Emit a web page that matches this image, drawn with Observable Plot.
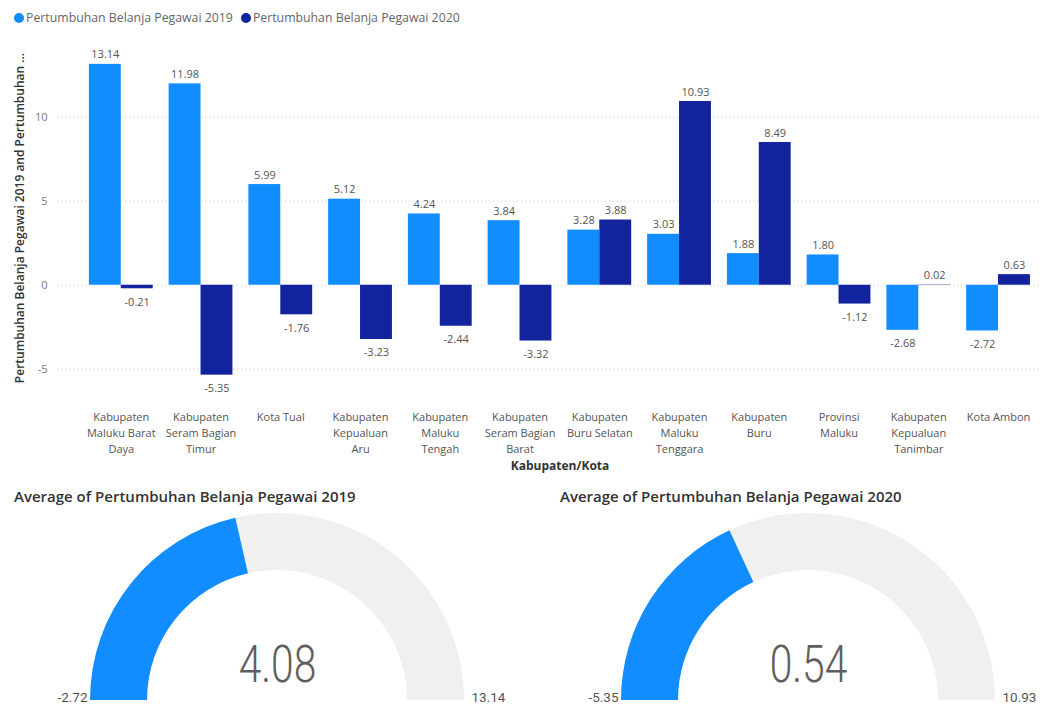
<!DOCTYPE html>
<html><head><meta charset="utf-8">
<script src="https://cdn.jsdelivr.net/npm/d3@7"></script>
<script src="https://cdn.jsdelivr.net/npm/@observablehq/plot@0.6"></script>
<style>
body{margin:0;background:#fff;width:1055px;height:704px;overflow:hidden;position:relative;font-family:"Open Sans",sans-serif}
.abs{position:absolute}
#legend{left:14px;top:9px;font-size:12.3px;color:#666;display:flex;align-items:center;white-space:nowrap}
#legend .item{display:flex;align-items:center;margin-right:8px}
#legend .dot{width:10px;height:10px;border-radius:50%;margin-right:2px}
.title{font-size:15px;font-weight:600;color:#333;white-space:nowrap}
</style></head>
<body>
<div id="legend" class="abs"></div>
<div id="bars" class="abs" style="left:0;top:30px"></div>
<div id="t1" class="abs title" style="left:14px;top:486px"></div>
<div id="t2" class="abs title" style="left:560px;top:486px"></div>
<div id="g1" class="abs" style="left:0;top:505px"></div>
<div id="g2" class="abs" style="left:530px;top:505px"></div>
<script>
const categories = ["Kabupaten Maluku Barat Daya", "Kabupaten Seram Bagian Timur", "Kota Tual", "Kabupaten Kepualuan Aru", "Kabupaten Maluku Tengah", "Kabupaten Seram Bagian Barat", "Kabupaten Buru Selatan", "Kabupaten Maluku Tenggara", "Kabupaten Buru", "Provinsi Maluku", "Kabupaten Kepualuan Tanimbar", "Kota Ambon"];
const tickLabels = ["Kabupaten\nMaluku Barat\nDaya", "Kabupaten\nSeram Bagian\nTimur", "Kota Tual", "Kabupaten\nKepualuan\nAru", "Kabupaten\nMaluku\nTengah", "Kabupaten\nSeram Bagian\nBarat", "Kabupaten\nBuru Selatan", "Kabupaten\nMaluku\nTenggara", "Kabupaten\nBuru", "Provinsi\nMaluku", "Kabupaten\nKepualuan\nTanimbar", "Kota Ambon"];
const values2019 = [13.14, 11.98, 5.99, 5.12, 4.24, 3.84, 3.28, 3.03, 1.88, 1.80, -2.68, -2.72];
const values2020 = [-0.21, -5.35, -1.76, -3.23, -2.44, -3.32, 3.88, 10.93, 8.49, -1.12, 0.02, 0.63];
const seriesNames = ["Pertumbuhan Belanja Pegawai 2019", "Pertumbuhan Belanja Pegawai 2020"];
const seriesColors = ["#118DFF", "#12239E"];
const yTicks = [-5, 0, 5, 10];
const yLabel = "Pertumbuhan Belanja Pegawai 2019 and Pertumbuhan ...";
const xLabel = "Kabupaten/Kota";
const gaugeTitles = ["Average of Pertumbuhan Belanja Pegawai 2019", "Average of Pertumbuhan Belanja Pegawai 2020"];

// legend
const legend = d3.select("#legend");
seriesNames.forEach((s, i) => {
  const it = legend.append("div").attr("class", "item");
  it.append("div").attr("class", "dot").style("background", seriesColors[i]);
  it.append("span").text(s);
});

const rows = [];
categories.forEach((c, i) => {
  rows.push({cat: c, series: seriesNames[0], value: values2019[i]});
  rows.push({cat: c, series: seriesNames[1], value: values2020[i]});
});
const labelOf = new Map(categories.map((c, i) => [c, tickLabels[i]]));
const fmt = v => v.toFixed(2);

const W = 1055, H = 450, mL = 57, mR = 15;
const pIn = 0.2, pOut = 0.263;
const step = (W - mL - mR) / (categories.length - pIn + 2 * pOut);
const half = step * (1 - pIn) / 2;

const s2019 = rows.filter(d => d.series === seriesNames[0]);
const s2020 = rows.filter(d => d.series === seriesNames[1]);

const bars = Plot.plot({
  width: W, height: H,
  marginLeft: mL, marginRight: mR, marginTop: 11, marginBottom: 86,
  style: {fontFamily: "Open Sans", fontSize: "11px", color: "#666", background: "transparent"},
  x: {domain: categories, paddingInner: pIn, paddingOuter: pOut, align: 0.76, round: false, label: null},
  y: {domain: [-6.5, 14.5], label: null},
  color: {domain: seriesNames, range: seriesColors},
  marks: [
    Plot.gridY(yTicks, {stroke: "#c8c8c8", strokeOpacity: 1, strokeDasharray: "1,3"}),
    Plot.axisY(yTicks, {tickSize: 0, tickPadding: 10, tickFormat: d => String(d), label: null, color: "#777", fontSize: 11}),
    Plot.axisX({tickSize: 0, tickPadding: 15, tickFormat: d => labelOf.get(d), label: null, color: "#555", fontSize: 11, lineHeight: 1.45}),
    Plot.barY(s2019, {x: "cat", y: "value", fill: "series", insetRight: half}),
    Plot.barY(s2020, {x: "cat", y: "value", fill: "series", insetLeft: half}),
    Plot.text(s2019.filter(d => d.value >= 0), {x: "cat", y: "value", text: d => fmt(d.value), dx: -half / 2, dy: -6, lineAnchor: "bottom", fill: "#555"}),
    Plot.text(s2019.filter(d => d.value < 0), {x: "cat", y: "value", text: d => fmt(d.value), dx: -half / 2, dy: 9, lineAnchor: "top", fill: "#555"}),
    Plot.text(s2020.filter(d => d.value >= 0), {x: "cat", y: "value", text: d => fmt(d.value), dx: half / 2, dy: -6, lineAnchor: "bottom", fill: "#555"}),
    Plot.text(s2020.filter(d => d.value < 0), {x: "cat", y: "value", text: d => fmt(d.value), dx: half / 2, dy: 9, lineAnchor: "top", fill: "#555"}),
    Plot.text([yLabel], {frameAnchor: "left", textAnchor: "middle", rotate: -90, dx: -37, fontSize: 12, fill: "#333", fontWeight: 600}),
    Plot.text([xLabel], {frameAnchor: "bottom", dy: 75, dx: 11, fontSize: 12, fill: "#333", fontWeight: 700})
  ]
});
document.getElementById("bars").append(bars);

// gauges
function gaugeArcs(value, min, max) {
  return (index, scales, values, dims) => {
    const {width, height, marginLeft, marginRight, marginBottom} = dims;
    const R = (width - marginLeft - marginRight) / 2;
    const cx = marginLeft + R, cy = height - marginBottom;
    const arc = d3.arc().innerRadius(R * 0.695).outerRadius(R);
    const rad = d => d * Math.PI / 180;
    const g = d3.create("svg:g").attr("transform", `translate(${cx},${cy})`);
    g.append("path").attr("d", arc({startAngle: rad(scales.x(value)), endAngle: rad(scales.x(max))})).attr("fill", "#F1F0EF");
    g.append("path").attr("d", arc({startAngle: rad(scales.x(min)), endAngle: rad(scales.x(value))})).attr("fill", "#118DFF");
    return g.node();
  };
}
function gauge(values, mLeft, w) {
  const min = d3.min(values), max = d3.max(values), avg = d3.mean(values);
  const svg = Plot.plot({
    width: w, height: 199,
    marginLeft: mLeft, marginRight: w - mLeft - 374, marginTop: 8, marginBottom: 4,
    axis: null,
    style: {fontFamily: "Roboto", background: "transparent", overflow: "visible"},
    x: {domain: [min, max], range: [-90, 90]},
    marks: [
      gaugeArcs(avg, min, max),
      Plot.text([avg], {text: d => d.toFixed(2), frameAnchor: "bottom", dy: -35, lineAnchor: "middle", fontSize: 51, fontWeight: 300, fill: "#605E5C"}),
      Plot.text([min], {text: d => d.toFixed(2), frameAnchor: "bottom-left", textAnchor: "end", dx: -3, dy: 1, lineAnchor: "bottom", fontSize: 13.5, fill: "#555"}),
      Plot.text([max], {text: d => d.toFixed(2), frameAnchor: "bottom-right", textAnchor: "start", dx: 7, dy: 1, lineAnchor: "bottom", fontSize: 13.5, fill: "#555"})
    ]
  });
  // condense the big value text horizontally (DIN-like narrow digits)
  d3.select(svg).selectAll('g[font-size="51"] text').each(function() {
    const t = this.getAttribute("transform") || "";
    this.setAttribute("transform", t + " scale(0.8,1)");
  });
  return svg;
}
document.getElementById("t1").textContent = gaugeTitles[0];
document.getElementById("t2").textContent = gaugeTitles[1];
document.getElementById("g1").append(gauge(values2019, 90, 527));
document.getElementById("g2").append(gauge(values2020, 91, 525));
</script>
</body></html>
